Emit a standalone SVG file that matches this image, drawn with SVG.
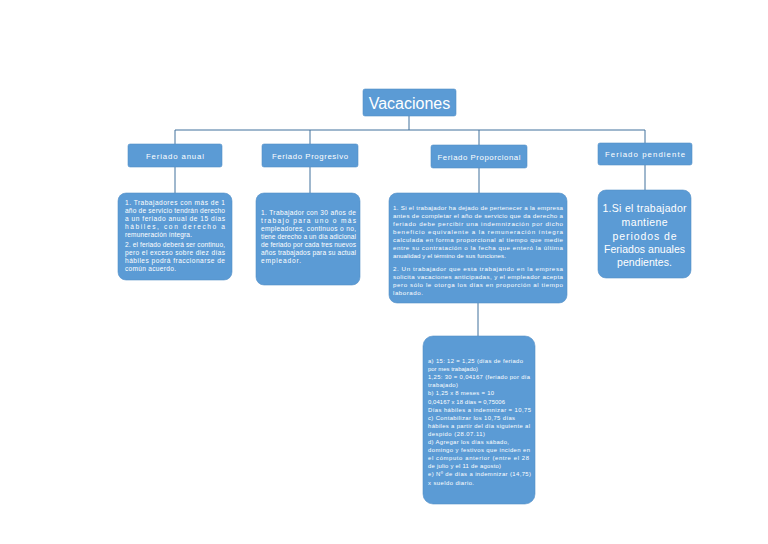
<svg xmlns="http://www.w3.org/2000/svg" width="768" height="544" viewBox="0 0 768 544">
<style>
.bx{fill:#5B9BD5;stroke:#5590C8;stroke-width:0.6}
.ln{stroke:#41719C;stroke-width:1;fill:none}
.t{fill:#ffffff;font-family:"Liberation Sans",Arial,sans-serif}
.s1{font-size:6.6px}
.s3{font-size:6.2px}
.s5{font-size:5.9px}
.h{font-size:7.8px;text-anchor:middle}
.b4{font-size:10.5px;text-anchor:middle}
</style>
<rect width="768" height="544" fill="#ffffff"/>
<g id="connectors" class="ln">
<line x1="409" y1="116" x2="409" y2="130"/>
<line x1="175" y1="130" x2="645" y2="130"/>
<line x1="175" y1="130" x2="175" y2="144"/>
<line x1="310" y1="130" x2="310" y2="144"/>
<line x1="479" y1="130" x2="479" y2="145"/>
<line x1="645" y1="130" x2="645" y2="143"/>
<line x1="175" y1="167" x2="175" y2="193"/>
<line x1="310" y1="167" x2="310" y2="193"/>
<line x1="479" y1="168" x2="479" y2="193"/>
<line x1="645" y1="165" x2="645" y2="190"/>
<line x1="478" y1="303" x2="478" y2="336"/>
</g>
<g id="vacaciones">
<rect class="bx" x="363" y="89" width="93" height="27" rx="2"/>
<text class="t" x="409.5" y="108.5" font-size="16" text-anchor="middle">Vacaciones</text>
</g>
<g id="feriado-anual">
<rect class="bx" x="128" y="144" width="94" height="23" rx="2"/>
<text class="t h" x="175" y="158.8" textLength="58" lengthAdjust="spacing">Feriado anual</text>
</g>
<g id="feriado-progresivo">
<rect class="bx" x="262" y="144" width="96" height="23" rx="2"/>
<text class="t h" x="310" y="158.8" textLength="76" lengthAdjust="spacing">Feriado Progresivo</text>
</g>
<g id="feriado-proporcional">
<rect class="bx" x="431" y="145" width="96" height="23" rx="2"/>
<text class="t h" x="479" y="159.8" textLength="83" lengthAdjust="spacing">Feriado Proporcional</text>
</g>
<g id="feriado-pendiente">
<rect class="bx" x="598" y="143" width="94" height="22" rx="2"/>
<text class="t h" x="645" y="157.3" textLength="80" lengthAdjust="spacing">Feriado pendiente</text>
</g>
<g id="box-anual">
<rect class="bx" x="118" y="193" width="114" height="87" rx="8"/>
<g class="t s1">
<text x="125" y="205.4" textLength="100" lengthAdjust="spacing">1. Trabajadores con más de 1</text>
<text x="125" y="213.4" textLength="100" lengthAdjust="spacing">año de servicio tendrán derecho</text>
<text x="125" y="221.4" textLength="100" lengthAdjust="spacing">a un feriado anual de 15 días</text>
<text x="125" y="229.4" textLength="100" lengthAdjust="spacing">hábiles,    con    derecho    a</text>
<text x="125" y="237.4" textLength="67" lengthAdjust="spacing">remuneración íntegra.</text>
<text x="125" y="247.4" textLength="100" lengthAdjust="spacing">2. el feriado deberá ser continuo,</text>
<text x="125" y="255.4" textLength="100" lengthAdjust="spacing">pero el exceso sobre diez días</text>
<text x="125" y="263.4" textLength="100" lengthAdjust="spacing">hábiles podrá fraccionarse de</text>
<text x="125" y="271.4" textLength="51" lengthAdjust="spacing">común acuerdo.</text>
</g>
</g>
<g id="box-progresivo">
<rect class="bx" x="256" y="193" width="104" height="92" rx="8"/>
<g class="t s1">
<text x="261" y="215.4" textLength="95" lengthAdjust="spacing">1. Trabajador con 30 años de</text>
<text x="261" y="223.4" textLength="95" lengthAdjust="spacing">trabajo    para    uno    o    más</text>
<text x="261" y="231.4" textLength="95" lengthAdjust="spacing">empleadores, continuos o no,</text>
<text x="261" y="239.4" textLength="95" lengthAdjust="spacing">tiene derecho a un día adicional</text>
<text x="261" y="247.4" textLength="95" lengthAdjust="spacing">de feriado por cada tres nuevos</text>
<text x="261" y="255.4" textLength="95" lengthAdjust="spacing">años trabajados para su actual</text>
<text x="261" y="263.4" textLength="40" lengthAdjust="spacing">empleador.</text>
</g>
</g>
<g id="box-proporcional">
<rect class="bx" x="389" y="193" width="178" height="110" rx="8"/>
<g class="t s3">
<text x="393" y="210.2" textLength="170" lengthAdjust="spacing">1. Si el trabajador ha dejado de pertenecer a la empresa</text>
<text x="393" y="218.2" textLength="170" lengthAdjust="spacing">antes de completar el año de servicio que da derecho a</text>
<text x="393" y="226.2" textLength="170" lengthAdjust="spacing">feriado  debe  percibir  una  indemnización  por  dicho</text>
<text x="393" y="234.2" textLength="170" lengthAdjust="spacing">beneficio   equivalente   a   la   remuneración   íntegra</text>
<text x="393" y="242.2" textLength="170" lengthAdjust="spacing">calculada en forma proporcional al tiempo que medie</text>
<text x="393" y="250.2" textLength="170" lengthAdjust="spacing">entre su contratación o la fecha que enteró la última</text>
<text x="393" y="258.2" textLength="113" lengthAdjust="spacing">anualidad y el término de sus funciones.</text>
<text x="393" y="271.2" textLength="170" lengthAdjust="spacing">2. Un trabajador que esta trabajando en la empresa</text>
<text x="393" y="279.2" textLength="170" lengthAdjust="spacing">solicita vacaciones anticipadas, y el empleador acepta</text>
<text x="393" y="287.2" textLength="170" lengthAdjust="spacing">pero sólo le otorga los días en proporción al tiempo</text>
<text x="393" y="295.2" textLength="30" lengthAdjust="spacing">laborado.</text>
</g>
</g>
<g id="box-pendiente">
<rect class="bx" x="598" y="190" width="93" height="88" rx="8"/>
<g class="t b4">
<text x="644.5" y="212" textLength="84" lengthAdjust="spacing">1.Si el trabajador</text>
<text x="644.5" y="225.5" textLength="46" lengthAdjust="spacing">mantiene</text>
<text x="644.5" y="239.5" textLength="64" lengthAdjust="spacing">periodos de</text>
<text x="644.5" y="253" textLength="81" lengthAdjust="spacing">Feriados anuales</text>
<text x="644.5" y="266" textLength="55" lengthAdjust="spacing">pendientes.</text>
</g>
</g>
<g id="box-calculo">
<rect class="bx" x="423" y="336" width="112" height="168" rx="10"/>
<g class="t s5">
<text x="428" y="363" textLength="95" lengthAdjust="spacing">a) 15: 12 = 1,25 (días de feriado</text>
<text x="428" y="371.1" textLength="50" lengthAdjust="spacing">por mes trabajado)</text>
<text x="428" y="379.2" textLength="102" lengthAdjust="spacing">1,25: 30 = 0,04167 (feriado por día</text>
<text x="428" y="387.3" textLength="30" lengthAdjust="spacing">trabajado)</text>
<text x="428" y="395.4" textLength="66" lengthAdjust="spacing">b) 1,25 x 8 meses = 10</text>
<text x="428" y="403.5" textLength="77" lengthAdjust="spacing">0,04167 x 18 días = 0,75006</text>
<text x="428" y="411.6" textLength="103" lengthAdjust="spacing">Días hábiles a indemnizar = 10,75</text>
<text x="428" y="419.7" textLength="87" lengthAdjust="spacing">c) Contabilizar los 10,75 días</text>
<text x="428" y="427.8" textLength="102" lengthAdjust="spacing">hábiles a partir del día siguiente al</text>
<text x="428" y="435.9" textLength="57" lengthAdjust="spacing">despido (28.07.11)</text>
<text x="428" y="444" textLength="81" lengthAdjust="spacing">d) Agregar los días sábado,</text>
<text x="428" y="452.1" textLength="102" lengthAdjust="spacing">domingo y festivos que inciden en</text>
<text x="428" y="460.2" textLength="101" lengthAdjust="spacing">el cómputo anterior (entre el 28</text>
<text x="428" y="468.3" textLength="73" lengthAdjust="spacing">de julio y el 11 de agosto)</text>
<text x="428" y="476.4" textLength="103" lengthAdjust="spacing">e) Nº de días a indemnizar (14,75)</text>
<text x="428" y="484.5" textLength="46" lengthAdjust="spacing">x sueldo diario.</text>
</g>
</g>
</svg>
